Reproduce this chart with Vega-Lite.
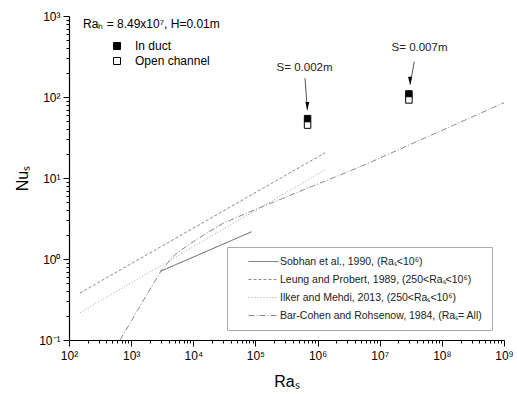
{
  "$schema": "https://vega.github.io/schema/vega-lite/v6.json",
  "width": 435,
  "height": 324,
  "autosize": {"type": "none"},
  "padding": {"left": 69, "top": 16, "right": 13, "bottom": 54},
  "background": "white",
  "config": {
    "font": "Liberation Sans",
    "view": {"stroke": null},
    "axis": {
      "grid": false,
      "domainColor": "black",
      "domainWidth": 1.2,
      "tickColor": "black",
      "tickWidth": 1,
      "labelColor": "black",
      "labelFontSize": 12,
      "labelFont": "Liberation Sans",
      "titleFont": "Liberation Sans",
      "titleFontSize": 16,
      "titleFontWeight": "normal",
      "titleColor": "black",
      "labelOverlap": false,
      "labelFlush": false
    }
  },
  "datasets": {
    "lines": [
      {"study": "Sobhan", "Ra": 2900, "Nu": 0.70},
      {"study": "Sobhan", "Ra": 87000, "Nu": 2.17},
      {"study": "Leung", "Ra": 150, "Nu": 0.38},
      {"study": "Leung", "Ra": 1320000, "Nu": 20.5},
      {"study": "Ilker", "Ra": 150, "Nu": 0.217},
      {"study": "Ilker", "Ra": 1320000, "Nu": 12.6},
      {"study": "BarCohen", "Ra": 662, "Nu": 0.1},
      {"study": "BarCohen", "Ra": 1000, "Nu": 0.17},
      {"study": "BarCohen", "Ra": 1500, "Nu": 0.29},
      {"study": "BarCohen", "Ra": 2000, "Nu": 0.42},
      {"study": "BarCohen", "Ra": 3100, "Nu": 0.73},
      {"study": "BarCohen", "Ra": 5000, "Nu": 1.12},
      {"study": "BarCohen", "Ra": 8300, "Nu": 1.49},
      {"study": "BarCohen", "Ra": 15000, "Nu": 2.0},
      {"study": "BarCohen", "Ra": 30000, "Nu": 2.75},
      {"study": "BarCohen", "Ra": 73000, "Nu": 3.7},
      {"study": "BarCohen", "Ra": 4900000, "Nu": 13.8},
      {"study": "BarCohen", "Ra": 1000000000, "Nu": 85}
    ],
    "markers": [
      {"type": "In duct", "Ra": 690000, "Nu": 54},
      {"type": "Open channel", "Ra": 690000, "Nu": 45},
      {"type": "In duct", "Ra": 29500000, "Nu": 109},
      {"type": "Open channel", "Ra": 29500000, "Nu": 92}
    ],
    "notes": [
      {"label": "S= 0.002m", "Ra": 617000, "Nu": 228},
      {"label": "S= 0.007m", "Ra": 43700000, "Nu": 403}
    ],
    "arrows": [
      {"Ra": 628000, "Nu": 170, "Ra2": 684000, "Nu2": 69},
      {"Ra": 36000000, "Nu": 273, "Ra2": 30800000, "Nu2": 142}
    ]
  },
  "encoding": {
    "x": {
      "field": "Ra",
      "type": "quantitative",
      "scale": {"type": "log", "domain": [100, 1000000000], "nice": false},
      "axis": {
        "title": "Raₛ",
        "titlePadding": 12,
        "labelPadding": 4,
        "values": [100,200,300,400,500,600,700,800,900,1000,2000,3000,4000,5000,6000,7000,8000,9000,10000,20000,30000,40000,50000,60000,70000,80000,90000,100000,200000,300000,400000,500000,600000,700000,800000,900000,1000000,2000000,3000000,4000000,5000000,6000000,7000000,8000000,9000000,10000000,20000000,30000000,40000000,50000000,60000000,70000000,80000000,90000000,100000000,200000000,300000000,400000000,500000000,600000000,700000000,800000000,900000000,1000000000],
        "labelExpr": "abs(log(datum.value)/LN10 - round(log(datum.value)/LN10)) < 0.001 ? '10' + ['⁰','¹','²','³','⁴','⁵','⁶','⁷','⁸','⁹'][round(log(datum.value)/LN10)] : ''",
        "tickSize": {"condition": {"test": "abs(log(datum.value)/LN10 - round(log(datum.value)/LN10)) < 0.001", "value": 6}, "value": 3}
      }
    },
    "y": {
      "field": "Nu",
      "type": "quantitative",
      "scale": {"type": "log", "domain": [0.1, 1000], "nice": false},
      "axis": {
        "title": "Nuₛ",
        "titlePadding": 8,
        "labelPadding": 3,
        "values": [0.1,0.2,0.3,0.4,0.5,0.6,0.7,0.8,0.9,1,2,3,4,5,6,7,8,9,10,20,30,40,50,60,70,80,90,100,200,300,400,500,600,700,800,900,1000],
        "labelExpr": "abs(log(datum.value)/LN10 - round(log(datum.value)/LN10)) < 0.001 ? (round(log(datum.value)/LN10) < 0 ? '10⁻¹' : '10' + ['⁰','¹','²','³'][round(log(datum.value)/LN10)]) : ''",
        "tickSize": {"condition": {"test": "abs(log(datum.value)/LN10 - round(log(datum.value)/LN10)) < 0.001", "value": 6}, "value": 3}
      }
    }
  },
  "layer": [
    {
      "data": {"name": "lines"},
      "mark": {"type": "line", "strokeWidth": 1, "clip": true},
      "encoding": {
        "detail": {"field": "study", "type": "nominal"},
        "color": {
          "field": "study",
          "type": "nominal",
          "scale": {"domain": ["Sobhan", "Leung", "Ilker", "BarCohen"], "range": ["#5a5a5a", "#8a8a8a", "#a0a0a0", "#8a8a8a"]},
          "legend": {
            "title": null,
            "orient": "none",
            "legendX": 158,
            "legendY": 231,
            "padding": 9,
            "strokeColor": "#aaaaaa",
            "fillColor": "white",
            "symbolType": "M-3,0H3",
            "symbolSize": 100,
            "symbolFillColor": "transparent",
            "symbolStrokeWidth": 1,
            "symbolOffset": 22,
            "labelOffset": 11,
            "labelFontSize": 10.5,
            "labelLimit": 320,
            "labelColor": "#222222",
            "rowPadding": 7,
            "labelExpr": "datum.value == 'Sobhan' ? 'Sobhan et al., 1990, (Raₛ<10⁶)' : datum.value == 'Leung' ? 'Leung and Probert, 1989, (250<Raₛ<10⁶)' : datum.value == 'Ilker' ? 'Ilker and Mehdi, 2013, (250<Raₛ<10⁶)' : 'Bar-Cohen and Rohsenow, 1984, (Raₛ= All)'"
          }
        },
        "strokeDash": {
          "field": "study",
          "type": "nominal",
          "scale": {"domain": ["Sobhan", "Leung", "Ilker", "BarCohen"], "range": [[1, 0], [3, 2], [1, 2], [6, 2, 1, 2]]},
          "legend": {
            "title": null,
            "orient": "none",
            "legendX": 158,
            "legendY": 231,
            "padding": 9,
            "strokeColor": "#aaaaaa",
            "fillColor": "white",
            "symbolType": "M-3,0H3",
            "symbolSize": 100,
            "symbolFillColor": "transparent",
            "symbolStrokeWidth": 1,
            "symbolOffset": 22,
            "labelOffset": 11,
            "labelFontSize": 10.5,
            "labelLimit": 320,
            "labelColor": "#222222",
            "rowPadding": 7,
            "labelExpr": "datum.value == 'Sobhan' ? 'Sobhan et al., 1990, (Raₛ<10⁶)' : datum.value == 'Leung' ? 'Leung and Probert, 1989, (250<Raₛ<10⁶)' : datum.value == 'Ilker' ? 'Ilker and Mehdi, 2013, (250<Raₛ<10⁶)' : 'Bar-Cohen and Rohsenow, 1984, (Raₛ= All)'"
          }
        }
      }
    },
    {
      "data": {"name": "arrows"},
      "mark": {"type": "rule", "color": "#555555", "strokeWidth": 1},
      "encoding": {
        "x2": {"field": "Ra2"},
        "y2": {"field": "Nu2"}
      }
    },
    {
      "data": {"name": "arrows"},
      "mark": {"type": "point", "shape": "M-0.5,-2L0.5,-2L0,0Z", "filled": true, "color": "black", "size": 64, "opacity": 1},
      "encoding": {
        "x": {"field": "Ra2", "type": "quantitative"},
        "y": {"field": "Nu2", "type": "quantitative"}
      }
    },
    {
      "data": {"name": "markers"},
      "mark": {"type": "point", "shape": "square", "filled": true, "stroke": "black", "strokeWidth": 1, "size": 42, "opacity": 1},
      "encoding": {
        "fill": {
          "field": "type",
          "type": "nominal",
          "scale": {"domain": ["In duct", "Open channel"], "range": ["black", "white"]},
          "legend": {
            "title": "Raₕ = 8.49x10⁷, H=0.01m",
            "orient": "none",
            "legendX": 14,
            "legendY": 3,
            "padding": 0,
            "titleFontSize": 12,
            "titleFontWeight": "normal",
            "titleColor": "black",
            "titlePadding": 9,
            "labelFontSize": 12,
            "labelColor": "black",
            "symbolType": "square",
            "symbolSize": 49,
            "symbolStrokeColor": "black",
            "symbolStrokeWidth": 1,
            "symbolOffset": 28,
            "labelOffset": 12,
            "rowPadding": 3
          }
        }
      }
    },
    {
      "data": {"name": "notes"},
      "mark": {"type": "text", "fontSize": 11.5, "color": "#222222", "align": "center", "baseline": "middle"},
      "encoding": {
        "text": {"field": "label"}
      }
    }
  ]
}
